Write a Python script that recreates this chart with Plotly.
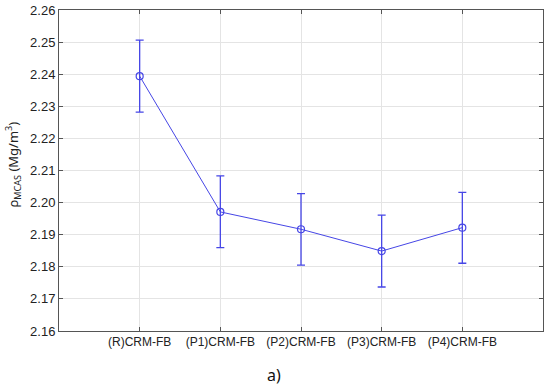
import plotly.graph_objects as go

categories = ["(R)CRM-FB", "(P1)CRM-FB", "(P2)CRM-FB", "(P3)CRM-FB", "(P4)CRM-FB"]
means = [2.2394, 2.1971, 2.1917, 2.1849, 2.1922]
upper = [2.2506, 2.2083, 2.2028, 2.1961, 2.2032]
lower = [2.2282, 2.1860, 2.1805, 2.1737, 2.1811]
y_ticks = [2.16, 2.17, 2.18, 2.19, 2.20, 2.21, 2.22, 2.23, 2.24, 2.25, 2.26]
y_tick_labels = ["2.16", "2.17", "2.18", "2.19", "2.20", "2.21", "2.22", "2.23", "2.24", "2.25", "2.26"]

err_plus = [u - m for u, m in zip(upper, means)]
err_minus = [m - l for m, l in zip(means, lower)]

color = "#4646e6"

fig = go.Figure()
fig.add_trace(go.Scatter(
    x=categories, y=means,
    mode="lines+markers",
    line=dict(color=color, width=1),
    marker=dict(symbol="circle-open", size=7, color=color, line=dict(width=1.2, color=color)),
    error_y=dict(type="data", symmetric=False, array=err_plus, arrayminus=err_minus,
                 color=color, thickness=1.3, width=4),
    showlegend=False,
))

fig.update_layout(
    width=550, height=390,
    margin=dict(l=59, r=7, t=10, b=59, autoexpand=False),
    plot_bgcolor="white", paper_bgcolor="white",
    font=dict(family="Liberation Sans, Arial, sans-serif", size=12, color="#222"),
    annotations=[
        dict(text="a)", x=0.444, y=-0.137, xref="paper", yref="paper",
             xanchor="center", yanchor="middle", showarrow=False,
             font=dict(family="Noto Sans, sans-serif", size=16, color="#111")),
        dict(text="ρ<sub>MCAS</sub> (Mg/m<sup>3</sup>)", x=-0.096, y=0.517,
             xref="paper", yref="paper", xanchor="center", yanchor="middle",
             textangle=-90, showarrow=False,
             font=dict(family="Noto Sans, sans-serif", size=13, color="#222")),
    ],
)
fig.update_xaxes(
    range=[-1, 5], showgrid=True, gridcolor="#e4e4e4", gridwidth=1,
    showline=True, linecolor="#555", linewidth=1, mirror="ticks",
    ticks="inside", ticklen=4, tickcolor="#555", automargin=False,
    tickfont=dict(size=12, color="#222"),
)
fig.update_yaxes(
    range=[2.16, 2.26], tickvals=y_ticks, ticktext=y_tick_labels,
    showgrid=True, gridcolor="#e4e4e4", gridwidth=1,
    showline=True, linecolor="#555", linewidth=1, mirror="ticks",
    ticks="inside", ticklen=4, tickcolor="#555", automargin=False,
    tickfont=dict(size=13, color="#222"),
    zeroline=False,
)

fig.write_html("out.html", config={"displayModeBar": False},
               post_script="document.body.style.margin='0';document.body.style.overflow='hidden';")
